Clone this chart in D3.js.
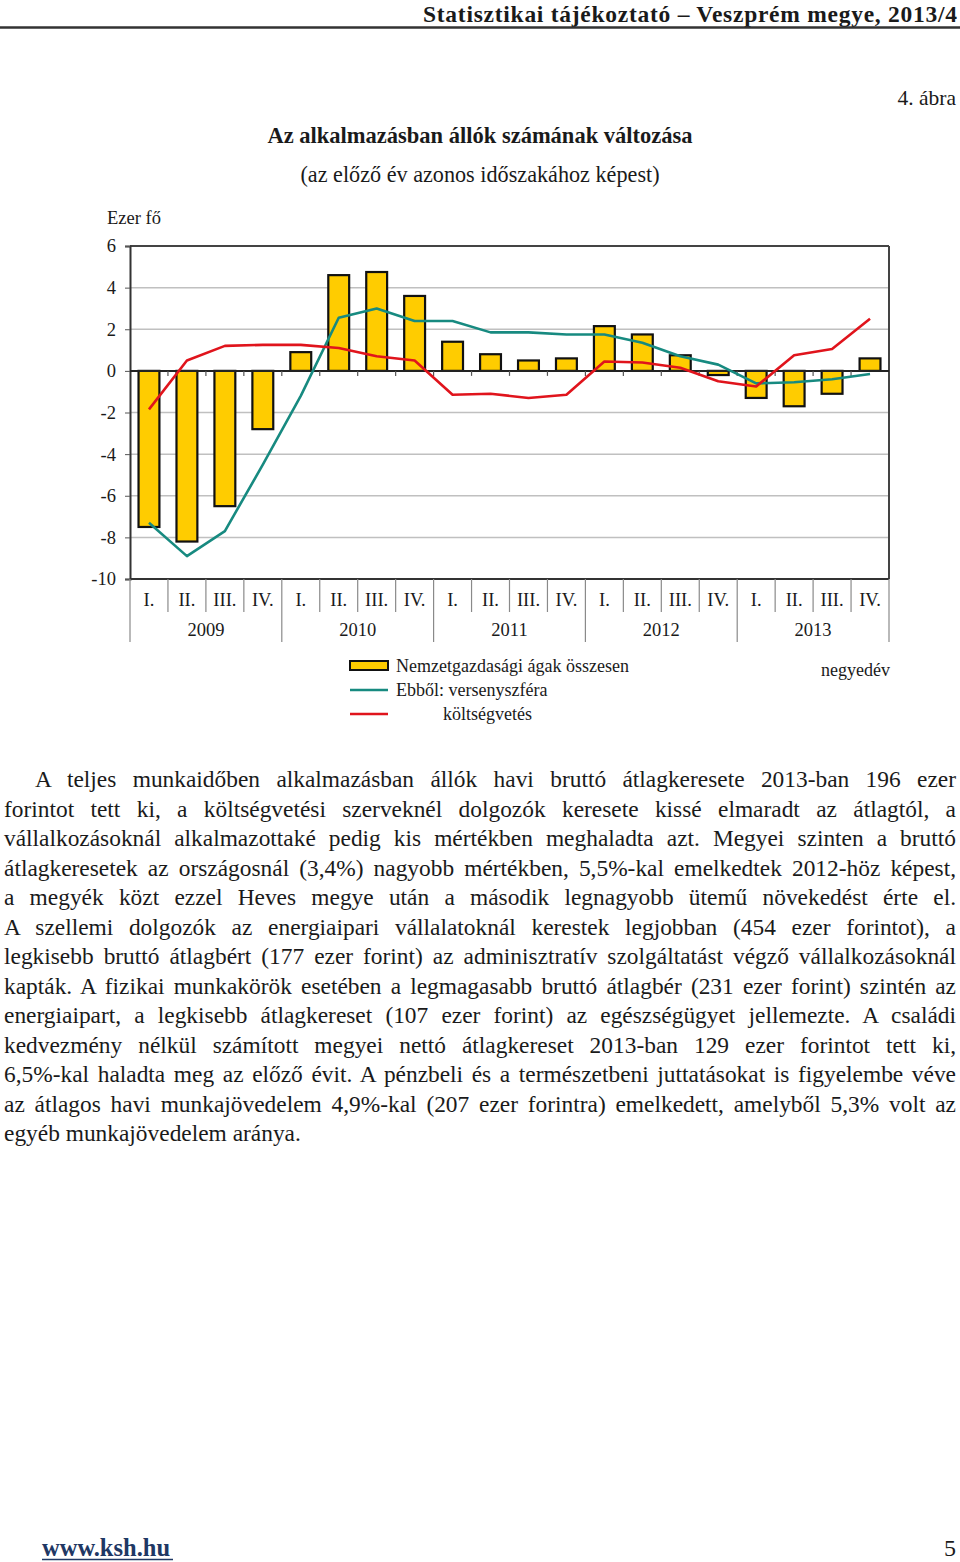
<!DOCTYPE html>
<html>
<head>
<meta charset="utf-8">
<script src="https://cdn.jsdelivr.net/npm/d3@7"></script>
<style>
  html, body { margin: 0; padding: 0; background: #fff; }
  body { width: 960px; height: 1562px; position: relative; overflow: hidden; font-family: "Liberation Serif", "DejaVu Serif", serif; color: #1a1a1a; }
  svg { position: absolute; left: 0; top: 0; }
  #para { position: absolute; left: 4px; top: 765px; width: 952px; font-size: 23.4px; line-height: 29.5px; }
  #para div { text-align: justify; text-align-last: justify; white-space: normal; }
  #para div.last { text-align-last: left; }
  #para div.first { text-indent: 31px; }
</style>
</head>
<body>
<div id="para"></div>
<script>
// ---- data ----
const years = ["2009", "2010", "2011", "2012", "2013"];
const quarterNames = ["I.", "II.", "III.", "IV."];
const totalSeries = [-7.5, -8.2, -6.5, -2.8, 0.9, 4.6, 4.75, 3.6, 1.4, 0.8, 0.5, 0.6, 2.15, 1.75, 0.75, -0.2, -1.3, -1.7, -1.1, 0.6];
const competitiveSeries = [-7.3, -8.9, -7.7, -4.5, -1.2, 2.55, 3.0, 2.4, 2.4, 1.85, 1.85, 1.75, 1.75, 1.35, 0.7, 0.3, -0.6, -0.55, -0.4, -0.15];
const budgetSeries = [-1.85, 0.5, 1.2, 1.25, 1.25, 1.1, 0.7, 0.5, -1.15, -1.1, -1.3, -1.15, 0.45, 0.4, 0.15, -0.5, -0.75, 0.75, 1.05, 2.5];
const yTicks = [6, 4, 2, 0, -2, -4, -6, -8, -10];
const legendLabels = ["Nemzetgazdasági ágak összesen", "Ebből: versenyszféra", "költségvetés"];
const paragraphLines = [
  "A teljes munkaidőben alkalmazásban állók havi bruttó átlagkeresete 2013-ban 196 ezer",
  "forintot tett ki, a költségvetési szerveknél dolgozók keresete kissé elmaradt az átlagtól, a",
  "vállalkozásoknál alkalmazottaké pedig kis mértékben meghaladta azt. Megyei szinten a bruttó",
  "átlagkeresetek az országosnál (3,4%) nagyobb mértékben, 5,5%-kal emelkedtek 2012-höz képest,",
  "a megyék közt ezzel Heves megye után a második legnagyobb ütemű növekedést érte el.",
  "A szellemi dolgozók az energiaipari vállalatoknál kerestek legjobban (454 ezer forintot), a",
  "legkisebb bruttó átlagbért (177 ezer forint) az adminisztratív szolgáltatást végző vállalkozásoknál",
  "kapták. A fizikai munkakörök esetében a legmagasabb bruttó átlagbér (231 ezer forint) szintén az",
  "energiaipart, a legkisebb átlagkereset (107 ezer forint) az egészségügyet jellemezte. A családi",
  "kedvezmény nélkül számított megyei nettó átlagkereset 2013-ban 129 ezer forintot tett ki,",
  "6,5%-kal haladta meg az előző évit. A pénzbeli és a természetbeni juttatásokat is figyelembe véve",
  "az átlagos havi munkajövedelem 4,9%-kal (207 ezer forintra) emelkedett, amelyből 5,3% volt az",
  "egyéb munkajövedelem aránya."
];

const categories = [];
years.forEach(y => quarterNames.forEach(q => categories.push({ year: y, q: q, key: y + q })));
const rows = categories.map((c, i) => ({ ...c, total: totalSeries[i], comp: competitiveSeries[i], budget: budgetSeries[i] }));

// ---- layout ----
const W = 960, H = 1562;
const plot = { left: 130, right: 889, top: 246, bottom: 579 };
const svg = d3.select("body").append("svg").attr("width", W).attr("height", H)
  .style("font-family", '"Liberation Serif", "DejaVu Serif", serif');

const BAR = "#ffcc00", TEAL = "#178a80", RED = "#e0141c", TXT = "#1a1a1a";
const LBL = 18.5;

// header
svg.append("text").attr("x", 957).attr("y", 21.5).attr("text-anchor", "end")
  .attr("font-size", 23.5).attr("font-weight", "bold").attr("fill", TXT)
  .attr("textLength", 534).attr("lengthAdjust", "spacing")
  .text("Statisztikai tájékoztató – Veszprém megye, 2013/4");
svg.append("line").attr("x1", 0).attr("x2", 960).attr("y1", 27.5).attr("y2", 27.5)
  .attr("stroke", "#333").attr("stroke-width", 2.5);
svg.append("text").attr("x", 956).attr("y", 105).attr("text-anchor", "end")
  .attr("font-size", 21.5).attr("fill", TXT).text("4. ábra");

// titles
svg.append("text").attr("x", 480).attr("y", 143).attr("text-anchor", "middle")
  .attr("font-size", 22.5).attr("font-weight", "bold").attr("fill", TXT)
  .text("Az alkalmazásban állók számának változása");
svg.append("text").attr("x", 480).attr("y", 182).attr("text-anchor", "middle")
  .attr("font-size", 22.2).attr("fill", TXT)
  .text("(az előző év azonos időszakához képest)");
svg.append("text").attr("x", 107).attr("y", 224).attr("font-size", 18.5).attr("fill", TXT).text("Ezer fő");

// scales
const x = d3.scaleBand().domain(rows.map(d => d.key)).range([plot.left, plot.right])
  .paddingInner(0.45).paddingOuter(0.225);
const step = x.step();
const y = d3.scaleLinear().domain([-10, 6]).range([plot.bottom, plot.top]);
const cx = d => x(d.key) + x.bandwidth() / 2;

// gridlines
svg.append("g").selectAll("line").data(yTicks.filter(t => t !== 6 && t !== -10 && t !== 0)).join("line")
  .attr("x1", plot.left).attr("x2", plot.right)
  .attr("y1", d => y(d)).attr("y2", d => y(d))
  .attr("stroke", "#c0c0c0").attr("stroke-width", 1.5);

// plot border top & right
svg.append("line").attr("x1", plot.left).attr("x2", plot.right).attr("y1", plot.top).attr("y2", plot.top)
  .attr("stroke", "#444").attr("stroke-width", 2);
svg.append("line").attr("x1", plot.right).attr("x2", plot.right).attr("y1", plot.top).attr("y2", plot.bottom)
  .attr("stroke", "#444").attr("stroke-width", 2);

// y axis
const yAxis = d3.axisLeft(y).tickValues(yTicks).tickSize(5).tickPadding(9).tickFormat(d3.format("d"));
const gy = svg.append("g").attr("transform", `translate(${plot.left},0)`).call(yAxis);
gy.select(".domain").attr("stroke", "#333").attr("stroke-width", 2);
gy.selectAll(".tick line").attr("stroke", "#555");
gy.selectAll(".tick text").attr("font-size", LBL).attr("fill", TXT)
  .attr("font-family", '"Liberation Serif", serif').text(d => d < 0 ? "-" + Math.abs(d) : d);

// bars
svg.append("g").selectAll("rect").data(rows).join("rect")
  .attr("x", d => x(d.key)).attr("width", x.bandwidth())
  .attr("y", d => y(Math.max(0, d.total)))
  .attr("height", d => Math.abs(y(d.total) - y(0)))
  .attr("fill", BAR).attr("stroke", "#111").attr("stroke-width", 2.2);

// zero axis with tick marks
svg.append("line").attr("x1", plot.left).attr("x2", plot.right).attr("y1", y(0)).attr("y2", y(0))
  .attr("stroke", "#222").attr("stroke-width", 2);
svg.append("g").selectAll("line").data(rows.slice(1)).join("line")
  .attr("x1", d => x(d.key) - step * x.paddingInner() / 2).attr("x2", d => x(d.key) - step * x.paddingInner() / 2)
  .attr("y1", y(0)).attr("y2", y(0) + 5).attr("stroke", "#555").attr("stroke-width", 1.2);

// lines
const lineGen = acc => d3.line().x(cx).y(d => y(acc(d)));
svg.append("path").datum(rows).attr("d", lineGen(d => d.comp))
  .attr("fill", "none").attr("stroke", TEAL).attr("stroke-width", 2.6).attr("stroke-linejoin", "round");
svg.append("path").datum(rows).attr("d", lineGen(d => d.budget))
  .attr("fill", "none").attr("stroke", RED).attr("stroke-width", 2.6).attr("stroke-linejoin", "round");

// bottom axis line
svg.append("line").attr("x1", plot.left).attr("x2", plot.right).attr("y1", plot.bottom).attr("y2", plot.bottom)
  .attr("stroke", "#333").attr("stroke-width", 2.2);

// category separators
const boundary = i => plot.left + step * i;
svg.append("g").selectAll("line").data(d3.range(0, rows.length + 1)).join("line")
  .attr("x1", i => boundary(i)).attr("x2", i => boundary(i))
  .attr("y1", plot.bottom).attr("y2", i => (i % 4 === 0 ? 642 : 612))
  .attr("stroke", "#8a8a8a").attr("stroke-width", 1.2);

// quarter labels
svg.append("g").selectAll("text").data(rows).join("text")
  .attr("x", cx).attr("y", 606).attr("text-anchor", "middle")
  .attr("font-size", LBL).attr("fill", TXT).text(d => d.q);
// year labels
svg.append("g").selectAll("text").data(years).join("text")
  .attr("x", (d, i) => boundary(i * 4) + step * 2).attr("y", 636).attr("text-anchor", "middle")
  .attr("font-size", LBL).attr("fill", TXT).text(d => d);

// legend
const LG = 18;
const lg = svg.append("g");
lg.append("rect").attr("x", 350).attr("y", 661).attr("width", 38).attr("height", 9)
  .attr("fill", BAR).attr("stroke", "#111").attr("stroke-width", 2);
lg.append("text").attr("x", 396).attr("y", 672).attr("font-size", LG).attr("fill", TXT).text(legendLabels[0]);
lg.append("line").attr("x1", 350).attr("x2", 388).attr("y1", 690).attr("y2", 690).attr("stroke", TEAL).attr("stroke-width", 2.6);
lg.append("text").attr("x", 396).attr("y", 696).attr("font-size", LG).attr("fill", TXT).text(legendLabels[1]);
lg.append("line").attr("x1", 350).attr("x2", 388).attr("y1", 714).attr("y2", 714).attr("stroke", RED).attr("stroke-width", 2.6);
lg.append("text").attr("x", 443).attr("y", 720).attr("font-size", LG).attr("fill", TXT).text(legendLabels[2]);
svg.append("text").attr("x", 890).attr("y", 676).attr("text-anchor", "end").attr("font-size", LG).attr("fill", TXT).text("negyedév");

// paragraph
d3.select("#para").selectAll("div").data(paragraphLines).join("div")
  .attr("class", (d, i) => (i === 0 ? "first" : "") + (i === paragraphLines.length - 1 ? " last" : ""))
  .text(d => d);

// footer
svg.append("text").attr("x", 42).attr("y", 1556).attr("font-size", 24.5).attr("font-weight", "bold")
  .attr("fill", "#1f3864").text("www.ksh.hu");
svg.append("line").attr("x1", 42).attr("x2", 173).attr("y1", 1559.5).attr("y2", 1559.5).attr("stroke", "#1f3864").attr("stroke-width", 1.5);
svg.append("text").attr("x", 956).attr("y", 1556).attr("text-anchor", "end").attr("font-size", 24).attr("fill", TXT).text("5");
</script>
</body>
</html>
